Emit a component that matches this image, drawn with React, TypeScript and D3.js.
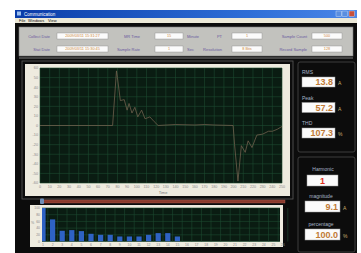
import React from 'react';
import * as d3 from 'd3';

// waveform samples
const waveT = [0, 75, 79, 80, 83, 87, 90, 92, 95, 98, 101, 105, 108.5, 113.5, 118, 122, 140, 160, 170, 180, 199.5, 201, 204.5, 208, 212, 215, 219, 224, 230, 236, 240, 245, 250];
const waveV = [0, 0, 57, 50, 26, 27, 16, 23, 13, 19, 9, 16, 7, 9, 4, 0, 1, 0.5, 1, 0.5, 0, -20, -58, -21, -28, -16, -23, -10, -9, -6, -6, -4, -1];

const yTicks = [60, 50, 40, 30, 20, 10, 0, -10, -20, -30, -40, -50, -60];
const xTicks = d3.range(0, 260, 10);

// harmonic spectrum, percent of fundamental
const harmN = d3.range(1, 27);
const harmP = [100, 66, 32, 34, 31, 23, 20, 20, 15, 15, 15, 20, 25, 25, 15, 0, 0, 0, 0, 0, 0, 0, 0, 0, 0, 0];
const pctTicks = [0, 20, 40, 60, 80, 100];

const topLabels = [
  ['Collect Date', 'MR Time', 'PT', 'Sample Count'],
  ['Stat Date', 'Sample Rate', 'Resolution', 'Record Sample'],
];
const topValues = [
  ['2009/03/11 15:31:27', '15', '1', '500'],
  ['2009/03/11 15:30:45', '1', '8 Bits', '128'],
];
const topUnits = ['Minute', 'Sec'];

const measLabels = ['RMS', 'Peak', 'THD'];
const measValues = ['13.8', '57.2', '107.3'];
const measUnits = ['A', 'A', '%'];

const font = 'Liberation Sans, Arial, sans-serif';

const App: React.FC = () => {
  const W = 361;
  const H = 253;

  // main waveform plot
  const plot = { l: 40, r: 282, t: 68, b: 183 };
  const x = d3.scaleLinear().domain([0, 250]).range([plot.l, plot.r]);
  const y = d3.scaleLinear().domain([-60, 60]).range([plot.b, plot.t]);
  const line = d3.line<number>().x((_, i) => x(waveT[i])).y(d => y(d));

  // harmonic bar plot
  const bp = { l: 42, r: 280, t: 208, b: 241.5 };
  const hx = d3.scaleLinear().domain([1, 26]).range([43, 283]);
  const hy = d3.scaleLinear().domain([0, 100]).range([bp.b, bp.t]);

  const colL = [50, 140, 222, 307];
  const colF = [[57, 51], [155, 28], [232, 30], [312, 30]];
  const rowY = [33, 46];

  return (
    <svg width={W} height={H} style={{ position: 'absolute', left: 0, top: 0, fontFamily: font }}>
      <rect width={W} height={H} fill="#ffffff" />
      <defs>
        <linearGradient id="title" x1="0" x2="1">
          <stop offset="0" stopColor="#0a3ca8" />
          <stop offset="0.7" stopColor="#2f6fd8" />
          <stop offset="1" stopColor="#4a86e8" />
        </linearGradient>
        <clipPath id="wclip"><rect x={plot.l} y={plot.t} width={plot.r - plot.l} height={plot.b - plot.t} /></clipPath>
        <clipPath id="bclip"><rect x={bp.l} y={bp.t} width={bp.r - bp.l} height={bp.b - bp.t} /></clipPath>
      </defs>

      {/* window chrome */}
      <rect x={15} y={10} width={342} height={8} fill="url(#title)" />
      <rect x={17} y={11.5} width={4} height={4} fill="#9cc0f0" />
      <text x={24} y={16} fontSize={4.5} fill="#ffffff">Communication</text>
      {[336, 342, 349].map((bx, i) => (
        <rect key={i} x={bx} y={11} width={5.5} height={5.5} fill={i === 2 ? '#c8503a' : '#5a8ee0'} stroke="#dde8f8" strokeWidth={0.4} />
      ))}
      <rect x={15} y={18} width={342} height={5} fill="#ece9d8" />
      <text x={19} y={22} fontSize={4} fill="#111">File</text>
      <text x={28} y={22} fontSize={4} fill="#111">Windows</text>
      <text x={48} y={22} fontSize={4} fill="#111">View</text>
      <rect x={15} y={23} width={342} height={230} fill="#0c0c0c" />

      {/* top settings panel */}
      <rect x={19} y={27} width={334} height={29} fill="#c2c2be" stroke="#7a7a7a" strokeWidth={0.6} />
      <line x1={19} x2={353} y1={58} y2={58} stroke="#9a9a9a" strokeWidth={0.8} />
      {rowY.map((ry, r) => (
        <g key={r}>
          {colL.map((lx, c) => (
            <text key={'l' + c} x={lx} y={ry + 4.5} fontSize={4} fill="#6a5aa0" textAnchor="end">{topLabels[r][c]}</text>
          ))}
          {colF.map(([fx, fw], c) => (
            <g key={'f' + c}>
              <rect x={fx} y={ry} width={fw} height={6} fill="#fbfbfb" stroke="#8a8a8a" strokeWidth={0.4} />
              <text x={fx + fw / 2} y={ry + 4.4} fontSize={3.8} fill="#d08a40" textAnchor="middle">{topValues[r][c]}</text>
            </g>
          ))}
          <text x={187} y={ry + 4.5} fontSize={4} fill="#6a5aa0">{topUnits[r]}</text>
        </g>
      ))}

      {/* waveform chart */}
      <rect x={22} y={61} width={271} height={138} fill="none" stroke="#5a5a5a" strokeWidth={0.8} />
      <rect x={25} y={64} width={265} height={132} fill="#eeebdf" />
      <rect x={plot.l} y={plot.t} width={plot.r - plot.l} height={plot.b - plot.t} fill="#0a1c12" />
      {xTicks.map(t => (
        <line key={'gx' + t} x1={x(t)} x2={x(t)} y1={plot.t} y2={plot.b} stroke="#1d4a30" strokeWidth={0.6} />
      ))}
      {yTicks.map(t => (
        <line key={'gy' + t} x1={plot.l} x2={plot.r} y1={y(t)} y2={y(t)} stroke="#1d4a30" strokeWidth={0.6} />
      ))}
      <path d={line(waveV) || ''} fill="none" stroke="#6e604c" strokeWidth={0.8} clipPath="url(#wclip)" />
      {yTicks.map(t => (
        <text key={'ty' + t} x={38} y={y(t) + 1.4} fontSize={3.8} fill="#8a8a8a" textAnchor="end">{t}</text>
      ))}
      {xTicks.map(t => (
        <text key={'tx' + t} x={x(t)} y={188} fontSize={3.6} fill="#8a8a8a" textAnchor="middle">{t}</text>
      ))}
      <text x={163} y={194} fontSize={4} fill="#777" textAnchor="middle">Time</text>

      {/* harmonic selector */}
      <rect x={42} y={200} width={243} height={3} fill="#8a3a2c" stroke="#b06050" strokeWidth={0.4} />
      <rect x={40} y={198.5} width={4} height={5.5} rx={1} fill="#6f8fb8" />

      {/* harmonic bar chart */}
      <rect x={30} y={205} width={253} height={42} fill="#eeebdf" />
      <rect x={bp.l} y={bp.t} width={bp.r - bp.l} height={bp.b - bp.t} fill="#0a1c12" />
      {harmN.map(n => (
        <line key={'bg' + n} x1={hx(n) + 4.8} x2={hx(n) + 4.8} y1={bp.t} y2={bp.b} stroke="#1d4a30" strokeWidth={0.6} />
      ))}
      {pctTicks.map(t => (
        <line key={'bh' + t} x1={bp.l} x2={bp.r} y1={hy(t)} y2={hy(t)} stroke="#1d4a30" strokeWidth={0.6} />
      ))}
      <g clipPath="url(#bclip)">
        {harmN.map((n, i) => (
          <rect key={'b' + n} x={hx(n) - 2.6} y={hy(harmP[i])} width={5.2} height={bp.b - hy(harmP[i])} fill="#2e62c4" />
        ))}
      </g>
      {pctTicks.map(t => (
        <text key={'py' + t} x={40} y={hy(t) + 1.3} fontSize={3.4} fill="#8a8a8a" textAnchor="end">{t}</text>
      ))}
      <text x={31} y={224} fontSize={3.6} fill="#8a8a8a">%</text>
      {harmN.map(n => (
        <text key={'hn' + n} x={hx(n)} y={245.5} fontSize={3.4} fill="#8a8a8a" textAnchor="middle">{n}</text>
      ))}

      {/* measurement panel */}
      <rect x={298} y={62} width={57} height={90} rx={2} fill="#0c0c0c" stroke="#4a4a4a" strokeWidth={0.8} />
      {measLabels.map((lb, i) => {
        const by = 77 + i * 25.5;
        return (
          <g key={lb}>
            <text x={302} y={by - 3} fontSize={5} fill="#a8b4c8">{lb}</text>
            <rect x={302} y={by} width={33} height={10} fill="#fbfbfb" stroke="#9a9a9a" strokeWidth={0.5} />
            <text x={333} y={by + 8.3} fontSize={9} fontWeight="bold" fill="#c07a36" textAnchor="end">{measValues[i]}</text>
            <text x={338} y={by + 8} fontSize={5} fill="#c8b070">{measUnits[i]}</text>
          </g>
        );
      })}

      {/* harmonic detail panel */}
      <rect x={298} y={157} width={57} height={95} rx={2} fill="#0c0c0c" stroke="#4a4a4a" strokeWidth={0.8} />
      <text x={323} y={171} fontSize={5} fill="#a8b4c8" textAnchor="middle">Harmonic</text>
      <rect x={307} y={175} width={31} height={11} fill="#fbfbfb" stroke="#9a9a9a" strokeWidth={0.5} />
      <text x={322.5} y={184} fontSize={9} fontWeight="bold" fill="#e0301e" textAnchor="middle">1</text>
      <text x={321} y={198} fontSize={5} fill="#a8b4c8" textAnchor="middle">magnitude</text>
      <rect x={305} y={201} width={35} height={11} fill="#fbfbfb" stroke="#9a9a9a" strokeWidth={0.5} />
      <text x={338} y={210} fontSize={9} fontWeight="bold" fill="#c07a36" textAnchor="end">9.1</text>
      <text x={343} y={210} fontSize={5} fill="#c8b070">A</text>
      <text x={321} y={226} fontSize={5} fill="#a8b4c8" textAnchor="middle">percentage</text>
      <rect x={305} y={229} width={35} height={11} fill="#fbfbfb" stroke="#9a9a9a" strokeWidth={0.5} />
      <text x={338} y={238} fontSize={9} fontWeight="bold" fill="#c07a36" textAnchor="end">100.0</text>
      <text x={343} y={238} fontSize={5} fill="#c8b070">%</text>
    </svg>
  );
};

export default App;
